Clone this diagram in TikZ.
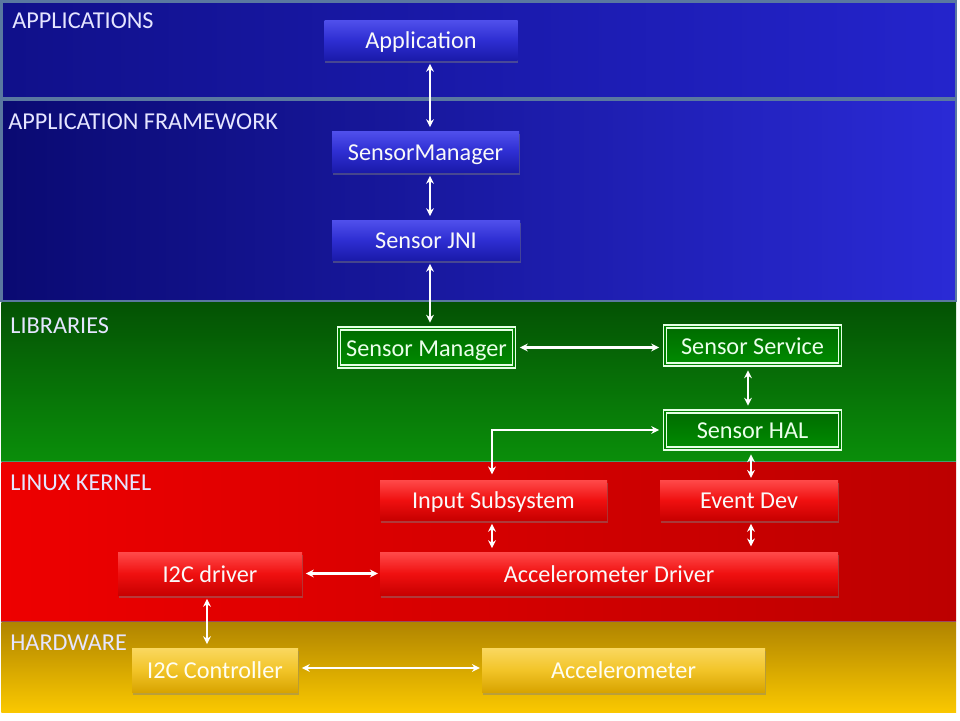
\documentclass[tikz,border=0pt]{standalone}
\usepackage{fontspec}
\setmainfont{Carlito}
\usetikzlibrary{arrows.meta,shadows,calc}
\definecolor{bandA}{HTML}{10108A}
\definecolor{bandAr}{HTML}{2424CC}
\definecolor{bandB}{HTML}{0A0A72}
\definecolor{bandBr}{HTML}{2A2AD6}
\definecolor{grnT}{HTML}{045204}
\definecolor{grnB}{HTML}{0A8E0A}
\definecolor{redL}{HTML}{EE0000}
\definecolor{redR}{HTML}{BC0000}
\definecolor{yelT}{HTML}{B08400}
\definecolor{yelB}{HTML}{FAC800}
\definecolor{sepline}{HTML}{5A78A0}
\definecolor{bxBlueT}{HTML}{5050EC}
\definecolor{bxBlueM}{HTML}{2E2ED2}
\definecolor{bxBlueB}{HTML}{1A1AAA}
\definecolor{bxRedT}{HTML}{FF4A4A}
\definecolor{bxRedM}{HTML}{F01010}
\definecolor{bxRedB}{HTML}{C80000}
\definecolor{bxYelT}{HTML}{FAD860}
\definecolor{bxYelM}{HTML}{F2C428}
\definecolor{bxYelB}{HTML}{D8A400}
\tikzset{
  band/.style={draw=sepline, line width=1.2pt},
  layerlabel/.style={anchor=base west, inner sep=0pt, text=white!90!blue, font=\fontsize{13.8}{16}\selectfont},
  boxbase/.style={rectangle, inner sep=0pt, text=white!95!gray, font=\fontsize{13.8}{16}\selectfont,
    text height=13pt, text depth=3pt,
    drop shadow={shadow xshift=0.5pt, shadow yshift=-1.5pt, opacity=0.45}},
  bluebox/.style={boxbase, top color=bxBlueT, bottom color=bxBlueB, middle color=bxBlueM},
  greenbox/.style={rectangle, inner sep=0pt, text=white!92!green, font=\fontsize{13.8}{16}\selectfont,
    text height=13pt, text depth=3pt,
    top color=green!42!black, bottom color=green!55!black,
    draw=white!90!green, line width=0.7pt, double=green!50!black, double distance=1.1pt},
  redbox/.style={boxbase, top color=bxRedT, bottom color=bxRedB, middle color=bxRedM},
  yelbox/.style={boxbase, text=white!95!yellow, top color=bxYelT, bottom color=bxYelB, middle color=bxYelM},
  link/.style={white, line width=1.3pt, {Stealth[length=4.5pt,width=4.5pt]}-{Stealth[length=4.5pt,width=4.5pt]}}
}
\begin{document}
\begin{tikzpicture}
\useasboundingbox (0,0) rectangle (19.2,-14.4);
\fill[white] (0,0) rectangle (19.2,-14.4);
% bands
\shade[left color=bandA, right color=bandAr] (0.03,-0.03) rectangle (19.12,-1.96);
\draw[band] (0.03,-0.03) rectangle (19.12,-1.96);
\shade[left color=bandB, right color=bandBr] (0.03,-2.0) rectangle (19.12,-6.02);
\draw[band] (0.03,-2.0) rectangle (19.12,-6.02);
\shade[top color=grnT, bottom color=grnB] (0.03,-6.04) rectangle (19.12,-9.22);
\shade[left color=redL, right color=redR] (0.03,-9.24) rectangle (19.12,-12.42);
\shade[top color=yelT, bottom color=yelB] (0.03,-12.44) rectangle (19.12,-14.24);
\draw[sepline!70!green, line width=0.8pt] (0.03,-9.23) -- (19.12,-9.23);
\draw[sepline!60!red, line width=0.8pt] (0.03,-12.43) -- (19.12,-12.43);
% layer labels
\node[layerlabel] (lapp) at (0.24,-0.56) {APPLICATIONS};
\node[layerlabel] (lfw) at (0.16,-2.58) {APPLICATION FRAMEWORK};
\node[layerlabel] (llib) at (0.20,-6.66) {LIBRARIES};
\node[layerlabel] (lker) at (0.20,-9.80) {LINUX KERNEL};
\node[layerlabel] (lhw) at (0.20,-13.00) {HARDWARE};
% boxes
\node[bluebox, minimum width=3.86cm, minimum height=0.80cm] (app) at (8.42,-0.80) {Application};
\node[bluebox, minimum width=3.74cm, minimum height=0.82cm] (fsm) at (8.51,-3.03) {SensorManager};
\node[bluebox, minimum width=3.76cm, minimum height=0.80cm] (jni) at (8.52,-4.80) {Sensor JNI};
\node[greenbox, minimum width=3.50cm, minimum height=0.76cm] (lsm) at (8.53,-6.95) {Sensor Manager};
\node[greenbox, minimum width=3.50cm, minimum height=0.76cm] (ss) at (15.05,-6.91) {Sensor Service};
\node[greenbox, minimum width=3.50cm, minimum height=0.74cm] (hal) at (15.05,-8.60) {Sensor HAL};
\node[redbox, minimum width=4.54cm, minimum height=0.80cm] (inp) at (9.87,-10.00) {Input Subsystem};
\node[redbox, minimum width=3.56cm, minimum height=0.80cm] (evd) at (14.98,-10.00) {Event Dev};
\node[redbox, minimum width=3.68cm, minimum height=0.86cm] (i2cd) at (4.20,-11.47) {I2C driver};
\node[redbox, minimum width=9.16cm, minimum height=0.86cm] (accd) at (12.18,-11.47) {Accelerometer Driver};
\node[yelbox, minimum width=3.32cm, minimum height=0.88cm] (i2cc) at (4.30,-13.40) {I2C Controller};
\node[yelbox, minimum width=5.66cm, minimum height=0.88cm] (acc) at (12.47,-13.40) {Accelerometer};
% connectors
\coordinate (xa) at (8.60,0);
\coordinate (xhal) at (14.96,0);
\coordinate (xev) at (15.02,0);
\coordinate (xi2c) at (4.14,0);
\coordinate (yi2c) at (0,-13.36);
\coordinate (bend) at (9.84,-8.60);
\draw[link, shorten <=2pt, shorten >=2pt] (app.south -| xa) -- (fsm.north -| xa);
\draw[link, shorten <=2pt, shorten >=2pt] (fsm.south -| xa) -- (jni.north -| xa);
\draw[link, shorten <=2pt, shorten >=3pt] (jni.south -| xa) -- (lsm.north -| xa);
\draw[link, shorten <=3pt, shorten >=3pt] (lsm.east) -- (lsm.east -| ss.west);
\draw[link, shorten <=3pt, shorten >=3pt] (ss.south -| xhal) -- (hal.north -| xhal);
\draw[link, shorten <=3pt, shorten >=3pt] (hal.west) -- (bend) -- (bend |- inp.north);
\draw[link, shorten <=3pt, shorten >=1pt] (hal.south -| xev) -- (evd.north -| xev);
\draw[link, shorten <=2pt, shorten >=2pt] (inp.south -| bend) -- (accd.north -| bend);
\draw[link, shorten <=2pt, shorten >=3pt] (evd.south -| xev) -- (accd.north -| xev);
\draw[link, shorten <=2pt, shorten >=1pt] (i2cd.east) -- (accd.west);
\draw[link, shorten <=2pt, shorten >=2pt] (i2cd.south -| xi2c) -- (i2cc.north -| xi2c);
\draw[link, shorten <=2pt, shorten >=1pt] (i2cc.east |- yi2c) -- (acc.west |- yi2c);
\end{tikzpicture}
\end{document}
